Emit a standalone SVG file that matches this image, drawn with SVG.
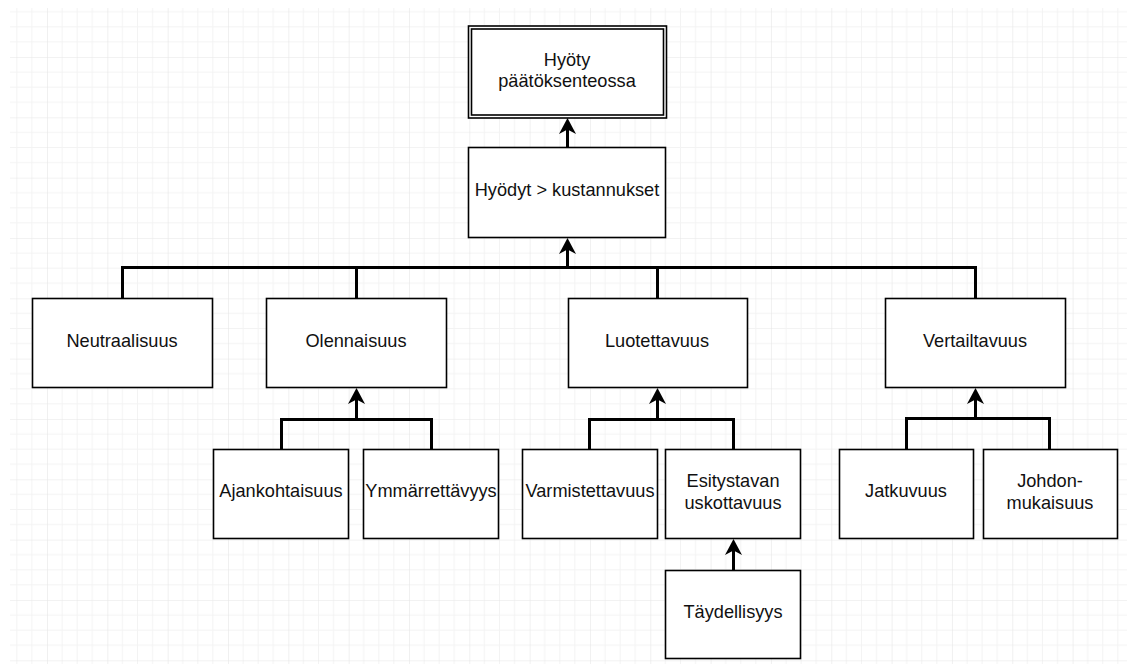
<svg xmlns="http://www.w3.org/2000/svg" width="1127" height="664" viewBox="0 0 1127 664">
  <style>
    .box { fill: #ffffff; stroke: #000000; stroke-width: 1.6; }
    .lbl { font-family: "Liberation Sans", Arial, sans-serif; font-size: 18.2px; fill: #111111; text-anchor: middle; }
    .edge { fill: none; stroke: #000000; stroke-width: 3; stroke-linejoin: miter; }
    .head { marker-end: url(#arrow); }
  </style>
  <defs>
    <!-- background grid: minor every quarter, major every full cell -->
    <pattern id="grid" patternUnits="userSpaceOnUse" x="47" y="57" width="60.33" height="60.33">
      <path d="M15.08,0 V60.33 M30.17,0 V60.33 M45.25,0 V60.33 M0,15.08 H60.33 M0,30.17 H60.33 M0,45.25 H60.33" stroke="#f3f3f3" stroke-width="1" fill="none"/>
      <path d="M0,0 V60.33 M0,0 H60.33" stroke="#e6e6e6" stroke-width="1.2" fill="none"/>
    </pattern>
    <!-- classic filled arrowhead -->
    <marker id="arrow" markerUnits="userSpaceOnUse" viewBox="0 -10 17 20" refX="6" refY="0" markerWidth="17" markerHeight="20" orient="auto">
      <path d="M0,-8.5 L16,0 L0,8.5 L4.5,0 Z" fill="#000000"/>
    </marker>
  </defs>

  <rect width="1127" height="664" fill="#ffffff"/>
  <rect x="10" y="8" width="1117" height="656" fill="url(#grid)"/>

  <!-- connectors: trunks carry the arrowheads, branches join the trunk -->
  <g id="connectors">
    <path class="edge head" d="M567.5,148 V128"/>
    <path class="edge" d="M122.5,298 V267.5 H975.5 V298"/>
    <path class="edge" d="M356.5,298 V267.5"/>
    <path class="edge" d="M657.5,298 V267.5"/>
    <path class="edge head" d="M567.5,267.5 V248"/>
    <path class="edge" d="M281.5,449 V419.5 H431.5 V449"/>
    <path class="edge head" d="M356.5,419.5 V398"/>
    <path class="edge" d="M589.5,449 V419.5 H733.5 V449"/>
    <path class="edge head" d="M657.5,419.5 V398"/>
    <path class="edge head" d="M733.5,570 V549"/>
    <path class="edge" d="M906.5,449 V418.5 H1049.5 V449"/>
    <path class="edge head" d="M975.5,418.5 V398"/>
  </g>

  <!-- nodes -->
  <g id="hyoty">
    <rect class="box" x="468.5" y="26" width="198" height="92"/>
    <rect class="box" x="471.5" y="29" width="192" height="86"/>
    <text class="lbl" x="567" y="66">Hyöty</text>
    <text class="lbl" x="567" y="87">päätöksenteossa</text>
  </g>
  <g id="hyodyt">
    <rect class="box" x="468.5" y="147.5" width="197" height="90"/>
    <text class="lbl" x="567" y="196">Hyödyt &gt; kustannukset</text>
  </g>
  <g id="neutraalisuus">
    <rect class="box" x="32.5" y="298.5" width="180" height="89"/>
    <text class="lbl" x="122" y="347">Neutraalisuus</text>
  </g>
  <g id="olennaisuus">
    <rect class="box" x="266.5" y="298.5" width="180" height="89"/>
    <text class="lbl" x="356" y="347">Olennaisuus</text>
  </g>
  <g id="luotettavuus">
    <rect class="box" x="568.5" y="298.5" width="179" height="89"/>
    <text class="lbl" x="657" y="347">Luotettavuus</text>
  </g>
  <g id="vertailtavuus">
    <rect class="box" x="885.5" y="298.5" width="180" height="89"/>
    <text class="lbl" x="975" y="347">Vertailtavuus</text>
  </g>
  <g id="ajankohtaisuus">
    <rect class="box" x="213.5" y="449.5" width="135" height="89"/>
    <text class="lbl" x="281" y="497">Ajankohtaisuus</text>
  </g>
  <g id="ymmarrettavyys">
    <rect class="box" x="363.5" y="449.5" width="135" height="89"/>
    <text class="lbl" x="431" y="497">Ymmärrettävyys</text>
  </g>
  <g id="varmistettavuus">
    <rect class="box" x="522.5" y="449.5" width="135" height="89"/>
    <text class="lbl" x="590" y="497">Varmistettavuus</text>
  </g>
  <g id="esitystavan">
    <rect class="box" x="665.5" y="449.5" width="135" height="89"/>
    <text class="lbl" x="733" y="487">Esitystavan</text>
    <text class="lbl" x="733" y="509">uskottavuus</text>
  </g>
  <g id="taydellisyys">
    <rect class="box" x="665.5" y="570.5" width="135" height="88"/>
    <text class="lbl" x="733" y="618">Täydellisyys</text>
  </g>
  <g id="jatkuvuus">
    <rect class="box" x="839.5" y="449.5" width="134" height="89"/>
    <text class="lbl" x="906" y="497">Jatkuvuus</text>
  </g>
  <g id="johdonmukaisuus">
    <rect class="box" x="983.5" y="449.5" width="134" height="89"/>
    <text class="lbl" x="1050" y="487">Johdon-</text>
    <text class="lbl" x="1050" y="509">mukaisuus</text>
  </g>
</svg>
